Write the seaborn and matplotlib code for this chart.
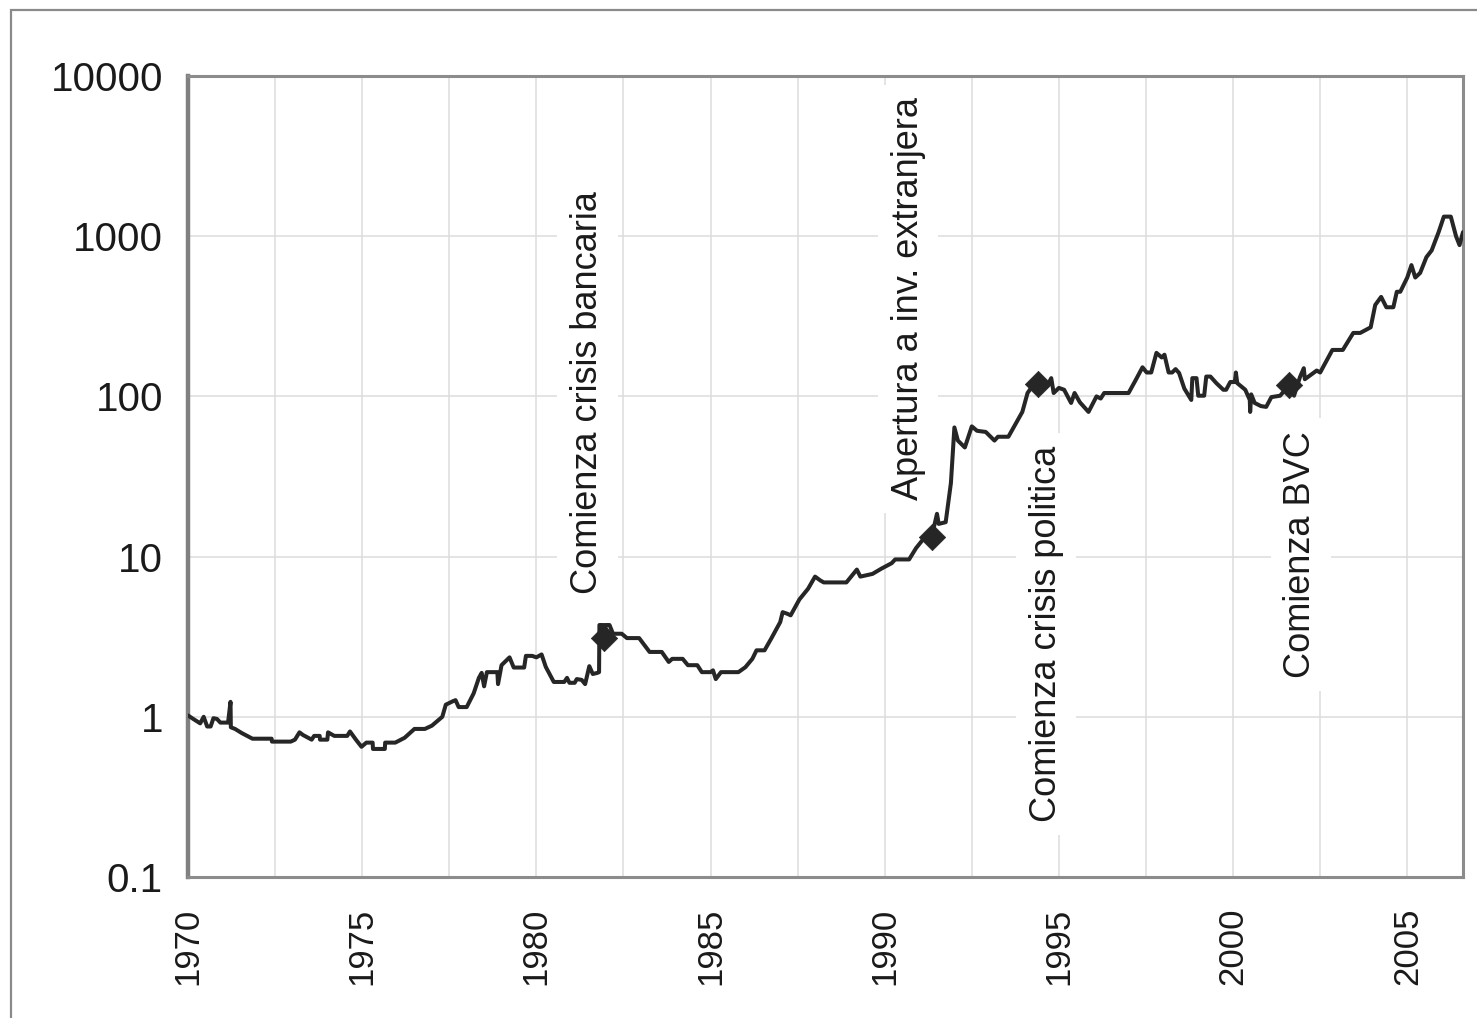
import matplotlib
matplotlib.use("Agg")
import matplotlib.pyplot as plt
from matplotlib.patches import Rectangle
from matplotlib.ticker import FixedLocator, NullFormatter, NullLocator
import numpy as np
import seaborn as sns

# ---- data ----
years = [
    1970.00, 1970.15, 1970.35, 1970.45, 1970.55, 1970.65, 1970.73, 1970.83, 1970.93, 1971.15,
    1971.22, 1971.23, 1971.35, 1971.55, 1971.85, 1972.40, 1972.41, 1972.95, 1973.07, 1973.20,
    1973.30, 1973.55, 1973.62, 1973.78, 1973.79, 1974.00, 1974.02, 1974.20, 1974.57, 1974.65,
    1974.82, 1974.98, 1975.12, 1975.30, 1975.31, 1975.65, 1975.66, 1975.95, 1976.22, 1976.50,
    1976.80, 1977.00, 1977.30, 1977.40, 1977.60, 1977.68, 1977.77, 1978.00, 1978.20, 1978.35,
    1978.43, 1978.50, 1978.58, 1978.88, 1978.90, 1979.00, 1979.23, 1979.35, 1979.65, 1979.70,
    1979.88, 1980.00, 1980.15, 1980.27, 1980.50, 1980.80, 1980.88, 1980.95, 1981.10, 1981.16,
    1981.30, 1981.40, 1981.52, 1981.62, 1981.75, 1981.80, 1981.81, 1981.92, 1981.93, 1981.98,
    1981.99, 1982.10, 1982.20, 1982.45, 1982.60, 1982.95, 1983.25, 1983.60, 1983.80, 1983.90,
    1984.20, 1984.35, 1984.62, 1984.75, 1985.00, 1985.07, 1985.15, 1985.30, 1985.80, 1986.00,
    1986.20, 1986.32, 1986.55, 1986.75, 1987.00, 1987.07, 1987.20, 1987.30, 1987.55, 1987.80,
    1988.00, 1988.15, 1988.25, 1988.90, 1989.20, 1989.30, 1989.65, 1989.90, 1990.20, 1990.30,
    1990.70, 1990.90, 1991.10, 1991.35, 1991.50, 1991.55, 1991.75, 1991.90, 1992.00, 1992.10,
    1992.30, 1992.50, 1992.65, 1992.90, 1993.15, 1993.25, 1993.55, 1993.95, 1994.10, 1994.30,
    1994.40, 1994.65, 1994.78, 1994.85, 1995.00, 1995.15, 1995.35, 1995.45, 1995.60, 1995.85,
    1996.08, 1996.20, 1996.30, 1997.00, 1997.20, 1997.40, 1997.52, 1997.65, 1997.80, 1997.95,
    1998.03, 1998.15, 1998.25, 1998.35, 1998.45, 1998.60, 1998.80, 1998.83, 1998.95, 1999.00,
    1999.17, 1999.23, 1999.35, 1999.52, 1999.72, 1999.80, 1999.92, 2000.05, 2000.08, 2000.12,
    2000.35, 2000.48, 2000.49, 2000.52, 2000.62, 2000.80, 2000.95, 2001.10, 2001.35, 2001.60,
    2001.75, 2001.92, 2002.03, 2002.06, 2002.40, 2002.50, 2002.85, 2003.15, 2003.45, 2003.65,
    2003.95, 2004.08, 2004.25, 2004.40, 2004.60, 2004.70, 2004.80, 2005.00, 2005.12, 2005.23,
    2005.37, 2005.55, 2005.70, 2005.90, 2006.05, 2006.25, 2006.40, 2006.50, 2006.60,
]
index_values = [
    1.02, 0.97, 0.91, 1.00, 0.87, 0.87, 0.98, 0.97, 0.92, 0.92,
    1.24, 0.86, 0.84, 0.79, 0.73, 0.73, 0.70, 0.70, 0.72, 0.80,
    0.77, 0.72, 0.76, 0.76, 0.72, 0.72, 0.80, 0.76, 0.76, 0.81,
    0.72, 0.65, 0.69, 0.69, 0.63, 0.63, 0.69, 0.69, 0.74, 0.84,
    0.84, 0.88, 1.00, 1.19, 1.25, 1.27, 1.15, 1.15, 1.40, 1.75,
    1.88, 1.55, 1.90, 1.90, 1.60, 2.10, 2.35, 2.03, 2.03, 2.40,
    2.40, 2.35, 2.45, 2.05, 1.65, 1.65, 1.75, 1.63, 1.63, 1.72,
    1.70, 1.60, 2.07, 1.85, 1.88, 1.90, 3.74, 3.74, 3.20, 3.20,
    3.74, 3.74, 3.30, 3.30, 3.10, 3.10, 2.54, 2.54, 2.20, 2.30,
    2.30, 2.10, 2.10, 1.90, 1.90, 1.95, 1.72, 1.90, 1.90, 2.04,
    2.30, 2.60, 2.60, 3.10, 3.90, 4.50, 4.40, 4.30, 5.40, 6.30,
    7.50, 7.10, 6.90, 6.90, 8.30, 7.50, 7.80, 8.40, 9.10, 9.60,
    9.60, 11.3, 12.8, 13.3, 18.5, 16.0, 16.4, 28.8, 64.0, 53.0,
    48.0, 65.0, 61.0, 60.0, 53.0, 56.0, 56.0, 80.0, 105.0, 121.0,
    123.0, 115.0, 130.0, 105.0, 113.0, 110.0, 91.0, 105.0, 92.0, 80.0,
    100.0, 97.0, 105.0, 105.0, 126.0, 152.0, 141.0, 141.0, 187.0, 175.0,
    182.0, 141.0, 141.0, 148.0, 140.0, 112.0, 95.0, 130.0, 130.0, 101.0,
    101.0, 133.0, 133.0, 121.0, 110.0, 110.0, 123.0, 123.0, 141.0, 121.0,
    110.0, 95.0, 80.0, 103.0, 91.0, 87.0, 86.0, 99.0, 101.0, 117.0,
    101.0, 132.0, 150.0, 128.0, 145.0, 141.0, 195.0, 195.0, 249.0, 249.0,
    270.0, 372.0, 418.0, 360.0, 360.0, 450.0, 450.0, 552.0, 660.0, 552.0,
    590.0, 740.0, 815.0, 1060.0, 1325.0, 1325.0, 1000.0, 880.0, 1060.0,
]

event_years = [1981.95, 1991.35, 1994.40, 2001.60]
event_values = [3.1, 13.3, 120.0, 117.0]
event_labels = ["Comienza crisis bancaria", "Apertura a inv. extranjera",
                "Comienza crisis politica", "Comienza BVC"]
label_x = [1981.47, 1990.67, 1994.63, 2001.94]
label_y = [5.8, 22.5, 0.22, 1.75]

x_ticks = [1970, 1975, 1980, 1985, 1990, 1995, 2000, 2005]
x_tick_labels = ["1970", "1975", "1980", "1985", "1990", "1995", "2000", "2005"]
y_ticks = [0.1, 1, 10, 100, 1000, 10000]
y_tick_labels = ["0.1", "1", "10", "100", "1000", "10000"]

# ---- figure ----
sns.set_style("white")
plt.rcParams["font.family"] = ["Liberation Sans", "DejaVu Sans"]

fig = plt.figure(figsize=(14.77, 10.18), dpi=100)
ax = fig.add_axes([188 / 1477, 1 - 877 / 1018, (1463 - 188) / 1477, (877 - 76) / 1018])

# outer frame
fig.patches.append(Rectangle((11 / 1477, -0.2), 2.0, (1018 - 10) / 1018 + 0.2,
                             transform=fig.transFigure, fill=False,
                             edgecolor="#8a8a8a", linewidth=1.6, zorder=0))

ax.set_yscale("log")
ax.set_xlim(1970, 2006.6)
ax.set_ylim(0.1, 10000)

# gridlines
for gx in np.arange(1972.5, 2006.0, 2.5):
    ax.axvline(gx, color="#dcdcdc", linewidth=1.1, zorder=0)
for gy in [1, 10, 100, 1000]:
    ax.axhline(gy, color="#dcdcdc", linewidth=1.1, zorder=0)

sns.lineplot(x=years, y=index_values, ax=ax, color="#262626", linewidth=2.9,
             estimator=None, sort=False, zorder=5)
sns.scatterplot(x=event_years, y=event_values, ax=ax, marker="D", s=180,
                color="#262626", edgecolor="#262626", linewidth=0.5, zorder=6)

for lx, ly, txt in zip(label_x, label_y, event_labels):
    ax.text(lx, ly, txt, rotation=90, ha="center", va="bottom", fontsize=26,
            color="#1a1a1a", zorder=3,
            bbox=dict(facecolor="white", edgecolor="none", pad=9))

ax.yaxis.set_major_locator(FixedLocator(y_ticks))
ax.yaxis.set_minor_locator(NullLocator())
ax.yaxis.set_minor_formatter(NullFormatter())
ax.set_yticklabels(y_tick_labels)
ax.set_xticks(x_ticks)
ax.set_xticklabels(x_tick_labels, rotation=90)

ax.tick_params(axis="y", which="major", length=8, width=1.3, color="#555555",
               labelsize=29, pad=10, labelcolor="#1a1a1a")
ax.tick_params(axis="x", which="major", length=0, labelsize=25, pad=22,
               labelcolor="#1a1a1a")

for side, sp in ax.spines.items():
    sp.set_color("#8c8c8c")
    sp.set_linewidth(2.2)
    sp.set_visible(True)
ax.spines["left"].set_linewidth(3.2)
ax.spines["left"].set_color("#808080")

ax.set_xlabel("")
ax.set_ylabel("")

fig.savefig("out.png", dpi=100)
